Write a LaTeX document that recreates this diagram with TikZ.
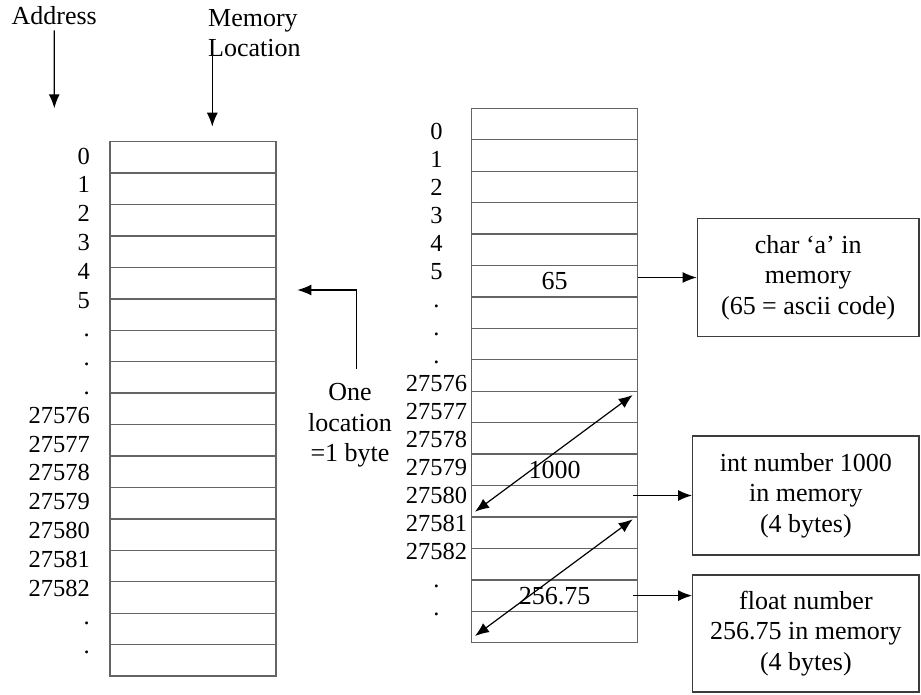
\documentclass[tikz,border=0pt]{standalone}
\usepackage{fontspec}
\setmainfont{Liberation Serif}
\usetikzlibrary{arrows.meta,calc}
\definecolor{gridc}{RGB}{100,100,100}
\definecolor{boxc}{RGB}{60,60,60}
\begin{document}
\begin{tikzpicture}[x=1pt,y=-1pt,
  cell/.style={draw=gridc, line width=1.3pt, minimum width=166pt, minimum height=31.43pt, inner sep=0pt},
  lab/.style={font=\fontsize{24.5}{28}\selectfont, inner sep=0pt, text height=16pt, text depth=0pt},
  txt/.style={font=\fontsize{26}{30.5}\selectfont, align=center, inner sep=0pt},
  arr/.style={draw=black, line width=1.4pt, -{Latex[length=14pt,width=11pt]}},
  darr/.style={draw=black, line width=1.2pt, {Latex[length=14pt,width=11pt]}-{Latex[length=14pt,width=11pt]}},
  infobox/.style={draw=boxc, line width=1.3pt, inner sep=0pt, font=\fontsize{26}{30.5}\selectfont, align=center}
]
\useasboundingbox (0,0) rectangle (921,694);
\fill[white] (0,0) rectangle (921,694);

% left column
\foreach \i in {0,...,16} {
  \node[cell] (L\i) at (193, {141.7+31.43*(\i+0.5)}) {};
}
\foreach \t [count=\k from 0] in {0,1,2,3,4,5,{.},{.},{.},27576,27577,27578,27579,27580,27581,27582,{.},{.}} {
  \node[lab, anchor=east] (la\k) at (90, {156+28.8*\k}) {\t};
}

% right column
\foreach \i in {0,...,16} {
  \node[cell] (R\i) at (554.7, {108.3+31.44*(\i+0.5)}) {};
}
\foreach \t [count=\k from 0] in {0,1,2,3,4,5,{.},{.},{.},27576,27577,27578,27579,27580,27581,27582,{.},{.}} {
  \node[lab] (ra\k) at (436.5, {131.7+28*\k}) {\t};
}

% values
\node[txt] (v65) at (R5) {65};
\node[txt] (v1000) at (R11) {1000};
\node[txt] (v256) at (R15) {256.75};

% headings
\node[txt] (addr) at (54.2,16) {Address};
\node[txt, align=left, anchor=west] (memloc) at (208,33) {Memory\\Location};
\coordinate (addrtip) at (54.3,108.3);
\coordinate (memtip) at (212.3,126.7);
\draw[arr] ([yshift=-5pt]addr.south) -- (addrtip);
\draw[arr] ([yshift=3pt]memtip |- memloc.south) -- (memtip);

% one location
\node[txt] (oneloc) at (350,425.5) {One\\location\\=1 byte};
\coordinate (onestart) at (356.7,369);
\coordinate (onetip) at (297.3,290);
\draw[arr] (onestart) |- (onetip);

% info boxes
\node[infobox, minimum width=221.7pt, minimum height=118.4pt] (charbox) at (808.2,277.5) {char `a' in\\memory\\(65 = ascii code)};
\node[infobox, minimum width=226.3pt, minimum height=119pt] (intbox) at (805.9,495.5) {int number 1000\\in memory\\(4 bytes)};
\node[infobox, minimum width=226.3pt, minimum height=117pt] (floatbox) at (805.9,633.5) {float number\\256.75 in memory\\(4 bytes)};

\draw[arr] (R5.east |- charbox.west) -- (charbox.west);
\draw[arr] ($(intbox.west -| R12.east)+(-5,0)$) -- (intbox.west);
\draw[arr] ($(R15.east)+(-5,0)$) -- (R15.east -| floatbox.west);

% span arrows
\coordinate (a1) at (475,511.7);
\coordinate (a2) at (632.7,395);
\coordinate (b1) at (475,636);
\coordinate (b2) at (632.7,519.3);
\draw[darr] (a1) -- (a2);
\draw[darr] (b1) -- (b2);
\end{tikzpicture}
\end{document}
